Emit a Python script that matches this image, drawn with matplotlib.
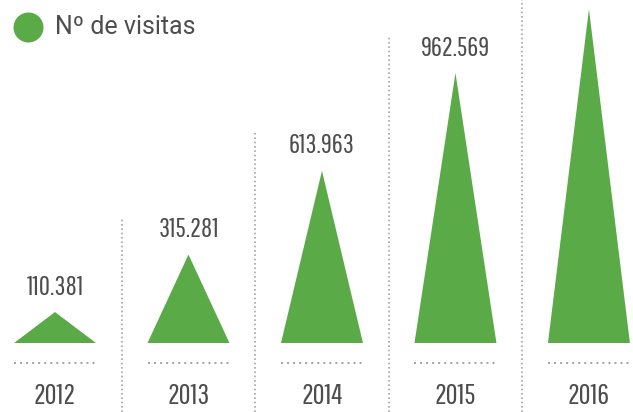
import numpy as np
import matplotlib.pyplot as plt
from matplotlib.transforms import offset_copy

#-----------------------------------------------------------------------------#
# Data
#-----------------------------------------------------------------------------#
years = ['2012', '2013', '2014', '2015', '2016']
visits = [110381, 315281, 613963, 962569, 1190000]
labels = ['110.381', '315.281', '613.963', '962.569', '']
legend_label = 'Nº de visitas'

green = '#5aab47'
txt = '#4d4d4d'
dots = '#a6a6a6'
num_font = dict(family=['Pathway Gothic One', 'Roboto Condensed', 'DejaVu Sans'])

#-----------------------------------------------------------------------------#
# Figure
#-----------------------------------------------------------------------------#
fig = plt.figure(figsize=(6.33, 4.12), dpi=100)
ax = fig.add_axes([0, 0, 1, 1])
ax.set_axis_off()
ax.set_xlim(-0.412, 4.330)
upp = 3565.0  # data units per pixel
ax.set_ylim(-69 * upp, 343 * upp)

half = 0.307
x = np.arange(len(years))
for i, v in enumerate(visits):
    ax.fill([x[i] - half, x[i], x[i] + half], [0, v, 0], color=green, lw=0, zorder=3)

# dotted baseline under every triangle
base_tr = offset_copy(ax.transData, fig=fig, y=-14.4, units='points')
for i in x:
    ax.plot([i - half, i + half], [0, 0], transform=base_tr, color=dots,
            lw=1.45, ls=(0, (1, 2)), dash_capstyle='butt')

# dotted separators, reaching up to the label of the next year
for i in x[:-1]:
    top = visits[i + 1] + 38 * upp
    ax.plot([i + 0.5, i + 0.5], [-69 * upp, top], color=dots, lw=1.2,
            ls=(0, (1, 1.6)), dash_capstyle='butt')

# value labels
for i, v in enumerate(visits):
    if labels[i]:
        ax.annotate(labels[i], (x[i], v), xytext=(0, 12.5), textcoords='offset points',
                    ha='center', va='baseline', fontsize=19.5, color=txt, **num_font)

# year labels
year_tr = offset_copy(ax.transData, fig=fig, y=-38, units='points')
for i in x:
    ax.text(i, 0, years[i], transform=year_tr, ha='center', va='center',
            fontsize=21, color=txt, **num_font)

# legend
ax.plot([28 / 633], [1 - 27 / 412], 'o', transform=ax.transAxes, ms=21.6,
        color=green, mec='none', clip_on=False)
ax.text(55 / 633, 1 - 27 / 412, legend_label, transform=ax.transAxes,
        ha='left', va='center', fontsize=18, color=txt, family='Roboto')

fig.savefig('out.png', dpi=100)
